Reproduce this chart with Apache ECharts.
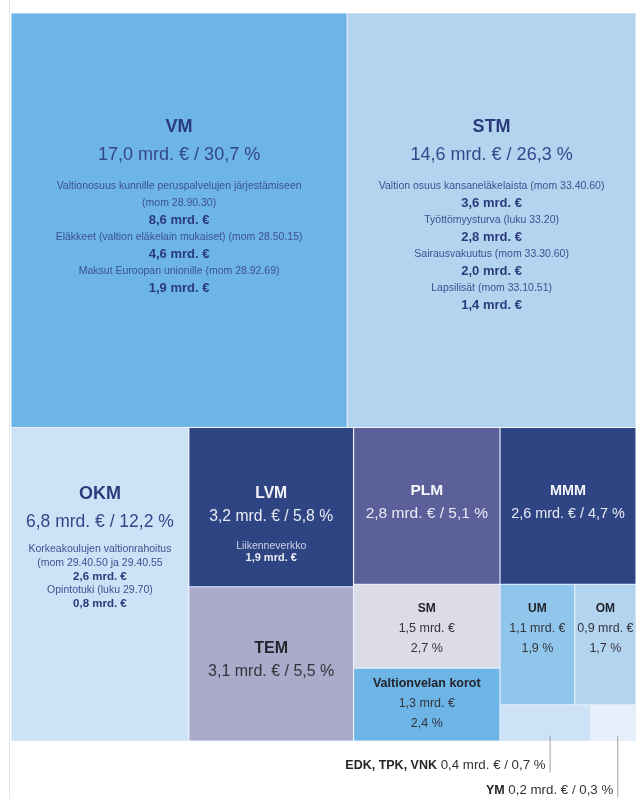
<!DOCTYPE html>
<html lang="fi">
<head>
<meta charset="utf-8">
<title>Hallinnonalojen määrärahat</title>
<script src="https://cdn.jsdelivr.net/npm/echarts@6/dist/echarts.min.js"></script>
<style>
  html, body { margin: 0; padding: 0; background: #fff; }
  #chart { width: 636px; height: 799px; }
  .frame { position: absolute; left: 9px; top: 0; width: 1px; height: 799px; background: #e4e4e4; }
</style>
</head>
<body>
<div class="frame"></div>
<div id="chart"></div>
<script>
// hallinnonalat, mrd. € ja osuus %
const names = ['VM', 'STM', 'OKM', 'LVM', 'TEM', 'PLM', 'MMM', 'SM', 'Valtionvelan korot', 'UM', 'OM', 'EDK, TPK, VNK', 'YM'];
const amounts = [17.0, 14.6, 6.8, 3.2, 3.1, 2.8, 2.6, 1.5, 1.3, 1.1, 0.9, 0.4, 0.2];
const shares = [30.7, 26.3, 12.2, 5.8, 5.5, 5.1, 4.7, 2.7, 2.4, 1.9, 1.7, 0.7, 0.3];

// suurimmat momentit
const vmItems = ['Valtionosuus kunnille peruspalvelujen järjestämiseen\n(mom 28.90.30)', 'Eläkkeet (valtion eläkelain mukaiset) (mom 28.50.15)', 'Maksut Euroopan unionille (mom 28.92.69)'];
const vmItemAmounts = [8.6, 4.6, 1.9];
const stmItems = ['Valtion osuus kansaneläkelaista (mom 33.40.60)', 'Työttömyysturva (luku 33.20)', 'Sairausvakuutus (mom 33.30.60)', 'Lapsilisät (mom 33.10.51)'];
const stmItemAmounts = [3.6, 2.8, 2.0, 1.4];
const okmItems = ['Korkeakoulujen valtionrahoitus\n(mom 29.40.50 ja 29.40.55', 'Opintotuki (luku 29.70)'];
const okmItemAmounts = [2.6, 0.8];
const lvmItems = ['Liikenneverkko'];
const lvmItemAmounts = [1.9];

// ryhmittely (treemapin sisäkkäiset laatikot)
const grouping = [
  ['VM', 'STM'],
  ['OKM', [['LVM', 'TEM'], [['PLM', 'MMM'], [['SM', 'Valtionvelan korot'], [['UM', 'OM'], ['EDK, TPK, VNK', 'YM']]]]]]
];

const details = {
  'VM': [vmItems, vmItemAmounts],
  'STM': [stmItems, stmItemAmounts],
  'OKM': [okmItems, okmItemAmounts],
  'LVM': [lvmItems, lvmItemAmounts]
};

// ulkoasu
const FONT = "'Liberation Sans', Arial, sans-serif";
const look = {
  'VM':  { fill: '#6cb5e6', kind: 'big', ink: 'navy', top: 101 },
  'STM': { fill: '#b2d4ef', kind: 'big', ink: 'navy', top: 101 },
  'OKM': { fill: '#cde2f6', kind: 'okm', ink: 'navy', top: 54 },
  'LVM': { fill: '#2f4583', kind: 'mid', ink: 'light', top: 56, size: 15.7 },
  'TEM': { fill: '#aaaacb', kind: 'mid', ink: 'dark', top: 51, size: 16 },
  'PLM': { fill: '#5b609b', kind: 'mid', ink: 'light', top: 53, size: 15.5 },
  'MMM': { fill: '#2f4583', kind: 'mid', ink: 'light', top: 53, size: 14.4 },
  'SM':  { fill: '#dcdbe8', kind: 'small', ink: 'dark', top: 14, size: 12 },
  'Valtionvelan korot': { fill: '#6cb5e6', kind: 'small', ink: 'dark', top: 5, size: 12.5 },
  'UM':  { fill: '#90c6ec', kind: 'small', ink: 'dark', top: 14, size: 12 },
  'OM':  { fill: '#b2d4ef', kind: 'small', ink: 'dark', top: 14, size: 12 },
  'EDK, TPK, VNK': { fill: '#cde2f6', kind: 'out', ink: 'dark', top: 53, left: 50, bar: 37 },
  'YM':  { fill: '#e7f0fa', kind: 'out', ink: 'dark', top: 78, left: 27, bar: 62 }
};
const inks = {
  navy:  { title: '#2b3a7b', amt: '#34468a', desc: '#3e5092', val: '#2b3a7b' },
  light: { title: '#f4f5fa', amt: '#e9ebf4', desc: '#cdd3e6', val: '#e9ebf4' },
  dark:  { title: '#24242c', amt: '#34343c', desc: '#34343c', val: '#24242c' }
};

const fmt = v => v.toFixed(1).replace('.', ',');

function txt(size, color, bold, lh) {
  return { fontFamily: FONT, fontSize: size, fontWeight: bold ? 'bold' : 'normal', color: color, lineHeight: lh };
}

function richFor(l) {
  const c = inks[l.ink];
  if (l.kind === 'big') {
    return { title: txt(18, c.title, true, 24), amt: txt(18, c.amt, false, 32), gap: { lineHeight: 7 },
             desc: txt(10.5, c.desc, false, 17), val: txt(13, c.val, true, 17) };
  }
  if (l.kind === 'okm') {
    return { title: txt(18, c.title, true, 24), amt: txt(17.5, c.amt, false, 32), gap: { lineHeight: 4 },
             desc: txt(10.5, c.desc, false, 13.75), val: txt(11.5, c.val, true, 13.75) };
  }
  if (l.kind === 'mid') {
    return { title: txt(l.size, c.title, true, 20), amt: txt(l.size, c.amt, false, 26), gap: { lineHeight: 10 },
             desc: txt(10.5, c.desc, false, 12), val: txt(11, c.val, true, 12) };
  }
  if (l.kind === 'small') {
    return { title: txt(l.size, c.title, true, 20), amt: txt(12.5, c.amt, false, 19.5) };
  }
  return {
    nm: txt(12.5, '#262626', true, 14),
    num: txt(13.3, '#333333', false, 14),
    sp: { width: 4, lineHeight: 14 },
    bar: { width: 1, height: l.bar, lineHeight: 14, backgroundColor: '#a0a0a0', verticalAlign: 'bottom' }
  };
}

function labelText(i) {
  const name = names[i];
  const l = look[name];
  const amt = fmt(amounts[i]) + ' mrd. €';
  const pct = fmt(shares[i]) + ' %';
  if (l.kind === 'out') return '{nm|' + name + '}{num| ' + amt + ' / ' + pct + '}{sp|}{bar|}';
  if (l.kind === 'small') return ['{title|' + name + '}', '{amt|' + amt + '}', '{amt|' + pct + '}'].join('\n');
  const lines = ['{title|' + name + '}', '{amt|' + amt + ' / ' + pct + '}'];
  const det = details[name];
  if (det) {
    lines.push('{gap|}');
    det[0].forEach((d, k) => {
      lines.push('{desc|' + d + '}', '{val|' + fmt(det[1][k]) + ' mrd. €}');
    });
  }
  return lines.join('\n');
}

let groupNo = 0;
function build(node) {
  if (typeof node === 'string') {
    const i = names.indexOf(node);
    const l = look[node];
    const text = labelText(i);
    return {
      name: node,
      value: amounts[i],
      itemStyle: { color: l.fill, borderColor: '#e3edf8', borderWidth: 0.6 },
      label: {
        show: true,
        position: [l.left != null ? l.left : '50%', l.top],
        align: l.kind === 'out' ? 'right' : 'center',
        verticalAlign: 'top',
        padding: 0,
        overflow: 'none',
        formatter: () => text,
        rich: richFor(l)
      }
    };
  }
  groupNo++;
  return { name: 'ryhmä ' + groupNo, children: node.map(build) };
}

const treeData = grouping.map(build);

const chart = echarts.init(document.getElementById('chart'), null, { renderer: 'canvas' });
chart.setOption({
  animation: false,
  series: [{
    type: 'treemap',
    left: 11,
    top: 13,
    width: 625,
    height: 728,
    roam: false,
    nodeClick: false,
    sort: false,
    squareRatio: 1,
    breadcrumb: { show: false },
    itemStyle: { borderWidth: 0, gapWidth: 0 },
    emphasis: { disabled: true },
    data: treeData
  }]
});
</script>
</body>
</html>
